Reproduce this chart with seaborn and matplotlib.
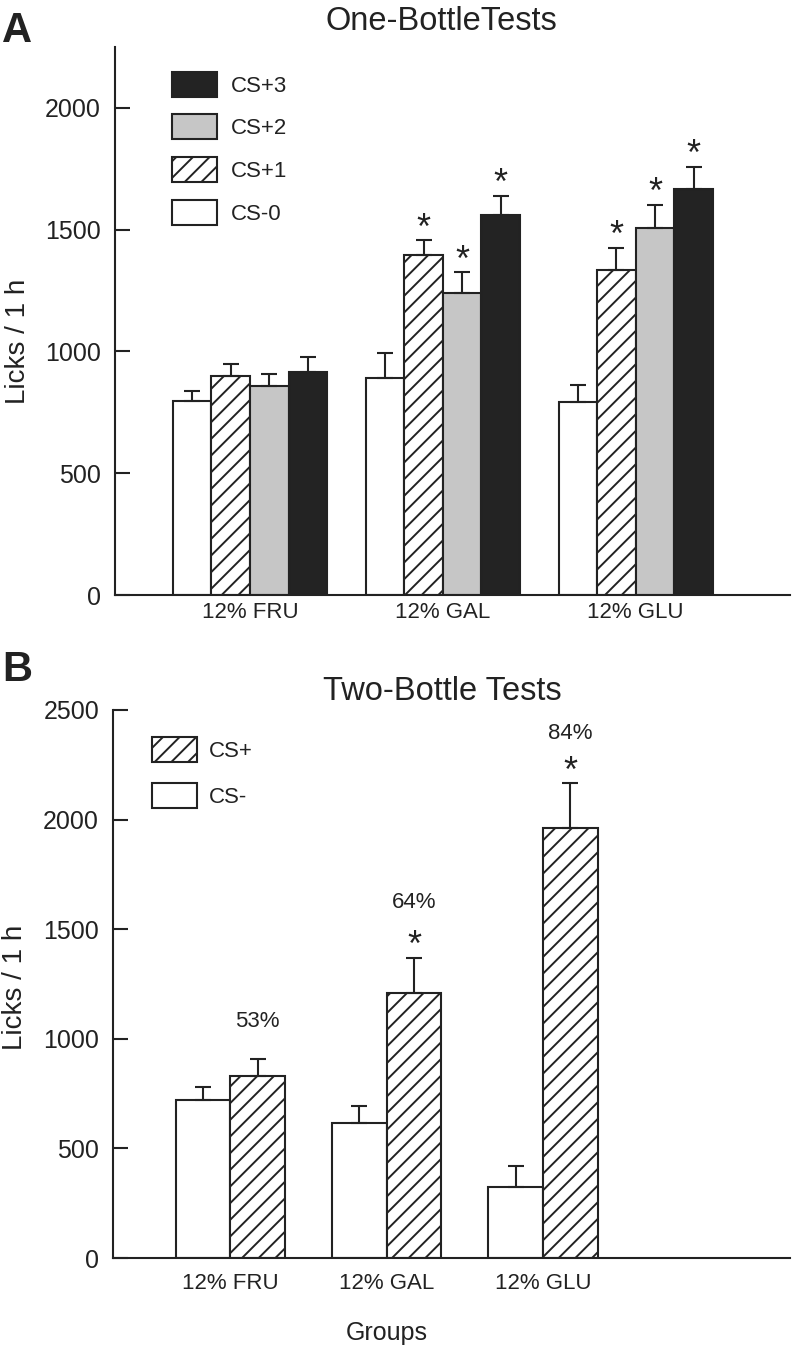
import numpy as np
import pandas as pd
import matplotlib
matplotlib.use("Agg")
import matplotlib.pyplot as plt
import seaborn as sns
from matplotlib.patches import Patch

# ---------------- data ----------------
groups = ["12% FRU", "12% GAL", "12% GLU"]

one_levels = ["CS-0", "CS+1", "CS+2", "CS+3"]
one_cs0 = [795, 890, 793]
one_cs1 = [899, 1396, 1333]
one_cs2 = [860, 1240, 1506]
one_cs3 = [917, 1560, 1666]
one_cs0_err = [42, 103, 69]
one_cs1_err = [48, 62, 93]
one_cs2_err = [46, 86, 96]
one_cs3_err = [62, 79, 92]
one_sig_cs0 = [False, False, False]
one_sig_cs1 = [False, True, True]
one_sig_cs2 = [False, True, True]
one_sig_cs3 = [False, True, True]

two_levels = ["CS-", "CS+"]
two_csminus = [722, 617, 325]
two_csplus = [832, 1209, 1963]
two_csminus_err = [56, 78, 95]
two_csplus_err = [76, 161, 203]
two_sig_csplus = [False, True, True]
two_pct = ["53%", "64%", "84%"]

yticks_one = [0, 500, 1000, 1500, 2000]
yticks_two = [0, 500, 1000, 1500, 2000, 2500]

# ---------------- style ----------------
sns.set_theme(style="ticks")
plt.rcParams["font.family"] = ["Liberation Sans", "DejaVu Sans"]
plt.rcParams["hatch.linewidth"] = 1.4
INK = "#222222"
plt.rcParams["text.color"] = INK
plt.rcParams["axes.labelcolor"] = INK
plt.rcParams["xtick.color"] = INK
plt.rcParams["ytick.color"] = INK

one_colors = {"CS-0": "white", "CS+1": "white", "CS+2": "#c6c6c6", "CS+3": "#232323"}
one_hatch = {"CS-0": "", "CS+1": "//", "CS+2": "", "CS+3": ""}
two_colors = {"CS-": "white", "CS+": "white"}
two_hatch = {"CS-": "", "CS+": "//"}
LW = 1.5

fig = plt.figure(figsize=(7.93, 13.55), dpi=100)
axA = fig.add_axes([115 / 793, 1 - 595 / 1355, 675 / 793, 548 / 1355])
axB = fig.add_axes([113 / 793, 1 - 1258 / 1355, 677 / 793, 548 / 1355])


def style_axis(ax):
    sns.despine(ax=ax)
    for s in ["left", "bottom"]:
        ax.spines[s].set_linewidth(LW)
        ax.spines[s].set_color(INK)
    ax.tick_params(axis="y", direction="in", length=11, width=LW, pad=10, labelsize=18)


def draw_panel(ax, levels, means, errs, sigs, colors, hatches, width):
    df = pd.DataFrame({
        "group": np.tile(groups, len(levels)),
        "cond": np.repeat(levels, len(groups)),
        "licks": np.concatenate(means),
    })
    sns.barplot(data=df, x="group", y="licks", hue="cond", order=groups,
                hue_order=levels, palette=colors, saturation=1, width=width,
                errorbar=None, edgecolor=INK, linewidth=LW, legend=False, ax=ax)
    for cont, lvl, m, e, sg in zip(ax.containers, levels, means, errs, sigs):
        xs = []
        for p in cont.patches:
            p.set_hatch(hatches[lvl])
            p.set_edgecolor(INK)
            p.set_linewidth(LW)
            xs.append(p.get_x() + p.get_width() / 2)
        xs = np.array(xs)
        ax.errorbar(xs, m, yerr=[np.zeros(len(e)), e], fmt="none", ecolor=INK,
                    elinewidth=LW, capsize=5.5, capthick=LW, zorder=1)
        for xi, mi, ei, si in zip(xs, m, e, sg):
            if si:
                ax.annotate("*", xy=(xi, mi + ei), xytext=(0, 1), textcoords="offset points",
                            ha="center", va="baseline", fontsize=26, color=INK)
    return ax


# ---------------- Panel A ----------------
draw_panel(axA, one_levels,
           [one_cs0, one_cs1, one_cs2, one_cs3],
           [one_cs0_err, one_cs1_err, one_cs2_err, one_cs3_err],
           [one_sig_cs0, one_sig_cs1, one_sig_cs2, one_sig_cs3],
           one_colors, one_hatch, 0.8)
style_axis(axA)
axA.set_ylim(0, 2250)
axA.set_yticks(yticks_one)
axA.set_xlim(-0.70, 2.80)
axA.tick_params(axis="x", length=0, pad=5, labelsize=16)
axA.set_xlabel("")
axA.set_ylabel("Licks / 1 h", fontsize=20)
axA.yaxis.set_label_coords(-0.125, 0.462)
axA.set_title("One-BottleTests", fontsize=23.5, x=0.484, pad=12, color=INK)
hA = [Patch(facecolor=one_colors[l], edgecolor=INK, hatch=one_hatch[l], linewidth=LW)
      for l in one_levels[::-1]]
axA.legend(hA, one_levels[::-1], loc="upper left", bbox_to_anchor=(0.0844, 0.955),
           frameon=False, borderpad=0, borderaxespad=0, handlelength=2.03,
           handleheight=1.35, labelspacing=0.8, handletextpad=0.6, fontsize=16)

# ---------------- Panel B ----------------
draw_panel(axB, two_levels,
           [two_csminus, two_csplus],
           [two_csminus_err, two_csplus_err],
           [[False] * 3, two_sig_csplus],
           two_colors, two_hatch, 0.7)
style_axis(axB)
axB.set_ylim(0, 2500)
axB.set_yticks(yticks_two)
axB.set_xlim(-0.75, 3.58)
axB.tick_params(axis="x", length=0, pad=11, labelsize=16)
axB.set_ylabel("Licks / 1 h", fontsize=20)
axB.yaxis.set_label_coords(-0.125, 0.493)
axB.set_xlabel("Groups", fontsize=18)
axB.xaxis.set_label_coords(0.405, -0.115)
axB.set_title("Two-Bottle Tests", fontsize=23.5, x=0.487, pad=7, color=INK)
pct_offsets = [27, 40, 36]
plus_bars = axB.containers[1].patches
for p, mi, ei, lab, off in zip(plus_bars, two_csplus, two_csplus_err, two_pct, pct_offsets):
    axB.annotate(lab, xy=(p.get_x() + p.get_width() / 2, mi + ei), xytext=(0, off),
                 textcoords="offset points", ha="center", va="center", fontsize=16, color=INK)
hB = [Patch(facecolor=two_colors[l], edgecolor=INK, hatch=two_hatch[l], linewidth=LW)
      for l in two_levels[::-1]]
axB.legend(hB, two_levels[::-1], loc="upper left", bbox_to_anchor=(0.0576, 0.950),
           frameon=False, borderpad=0, borderaxespad=0, handlelength=2.03,
           handleheight=1.35, labelspacing=0.95, handletextpad=0.55, fontsize=16)

fig.text(0.003, 1 - 11 / 1355, "A", fontsize=30, fontweight="bold", ha="left", va="top", color=INK)
fig.text(0.003, 1 - 650 / 1355, "B", fontsize=30, fontweight="bold", ha="left", va="top", color=INK)

fig.savefig("out.png", dpi=100)
